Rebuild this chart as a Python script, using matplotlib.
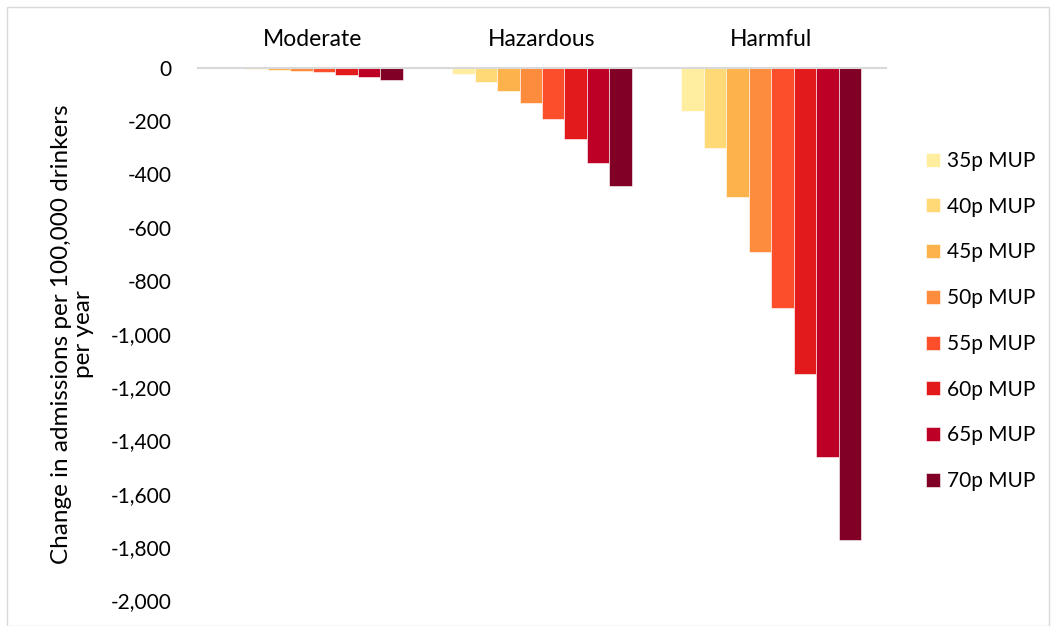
import numpy as np
import matplotlib.pyplot as plt
from matplotlib.patches import Rectangle

plt.rcParams['font.family'] = ['Lato', 'DejaVu Sans']

groups = ["Moderate", "Hazardous", "Harmful"]
series = ["35p MUP", "40p MUP", "45p MUP", "50p MUP",
          "55p MUP", "60p MUP", "65p MUP", "70p MUP"]
moderate = [-1, -3, -8, -10, -16, -25, -35, -46]
hazardous = [-24, -51, -85, -130, -191, -268, -357, -445]
harmful = [-160, -302, -486, -690, -901, -1150, -1464, -1776]
colors = ["#FFEDA0", "#FED976", "#FEB24C", "#FD8D3C",
          "#FC4E2A", "#E31A1C", "#BD0026", "#800026"]

values = np.array([moderate, hazardous, harmful])

W, H = 1056, 626
fig = plt.figure(figsize=(W / 100, H / 100), dpi=100)
ax = fig.add_axes([198 / W, 1 - 600 / H, (886 - 198) / W, (600 - 68) / H])

x = np.arange(len(groups))
group_w = 0.784
w = group_w / len(series)
for i, name in enumerate(series):
    ax.bar(x - group_w / 2 + w * (i + 0.5), values[:, i], width=w,
           color=colors[i], edgecolor="white", linewidth=0.4, label=name)

ax.set_xlim(-0.5, len(groups) - 0.5)
ax.set_ylim(-2000, 0)
ax.set_yticks(np.arange(-2000, 1, 200))
ax.yaxis.set_major_formatter(plt.FuncFormatter(lambda v, p: f"{int(v):,}"))
ax.xaxis.tick_top()
ax.set_xticks(x)
ax.set_xticklabels(groups)
ax.tick_params(axis="both", length=0, colors="black")
ax.tick_params(axis="x", pad=13, labelsize=16.5)
ax.tick_params(axis="y", pad=19, labelsize=15)
for s in ["left", "right", "bottom"]:
    ax.spines[s].set_visible(False)
ax.spines["top"].set_color("#d9d9d9")
ax.spines["top"].set_linewidth(1.5)

ax.set_ylabel("Change in admissions per 100,000 drinkers\nper year", fontsize=17.5,
              linespacing=1.05)
ax.yaxis.set_label_coords(-0.151, 0.5)

leg = fig.legend(loc="upper left", bbox_to_anchor=(926 / W, 1 - 151 / H), frameon=False,
                 fontsize=15, handlelength=0.65, handleheight=0.65, handletextpad=0.35,
                 labelspacing=1.235, borderpad=0, borderaxespad=0)

fig.patches.append(Rectangle((7 / W, 0), (W - 14) / W, 1 - 7 / H, transform=fig.transFigure,
                             fill=False, edgecolor="#d9d9d9", linewidth=1))

fig.savefig("out.png", dpi=100)
